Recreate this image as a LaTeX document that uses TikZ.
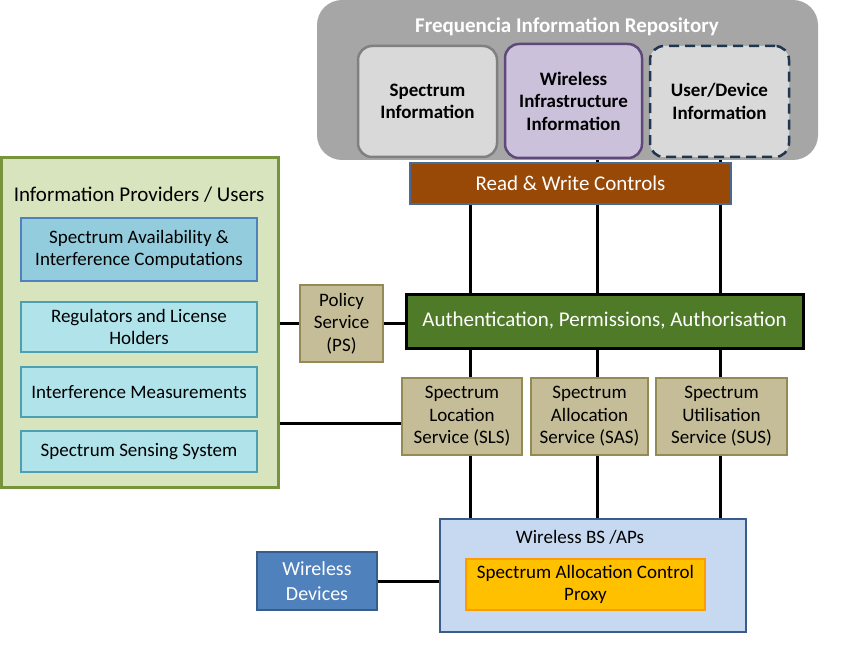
\documentclass[tikz,border=0pt]{standalone}
\usepackage{fontspec}
\setmainfont{Carlito}
\definecolor{repog}{HTML}{A6A6A6}
\definecolor{lgray}{HTML}{D9D9D9}
\definecolor{mgray}{HTML}{808080}
\definecolor{lilac}{HTML}{CCC1DA}
\definecolor{purp}{HTML}{5F497A}
\definecolor{navy}{HTML}{1F3550}
\definecolor{rust}{HTML}{984807}
\definecolor{steel}{HTML}{4A6A92}
\definecolor{agreen}{HTML}{4F7A28}
\definecolor{khaki}{HTML}{C4BD97}
\definecolor{khakib}{HTML}{948A54}
\definecolor{olivel}{HTML}{D7E4BD}
\definecolor{oliveb}{HTML}{77933C}
\definecolor{aqua}{HTML}{93CDDD}
\definecolor{aquab}{HTML}{4F81BD}
\definecolor{aqual}{HTML}{B0E3EA}
\definecolor{aquad}{HTML}{4F9FB3}
\definecolor{bslight}{HTML}{C6D9F1}
\definecolor{bsb}{HTML}{385D8A}
\definecolor{gold}{HTML}{FFC000}
\definecolor{orng}{HTML}{FF9A00}
\definecolor{wdblue}{HTML}{4F81BD}
\begin{document}
\begin{tikzpicture}[x=1pt,y=-1pt,
  every node/.style={font=\fontsize{19}{22.5}\selectfont, align=center, inner sep=0pt},
  repobox/.style={draw, line width=2.5pt, rounded corners=14pt, font=\fontsize{19}{22.5}\selectfont\bfseries},
  svc/.style={draw=khakib, fill=khaki, line width=1.2pt},
  sub/.style={draw=aquad, fill=aqual, line width=2.5pt, minimum width=236pt},
  bigtext/.style={font=\fontsize{21}{25}\selectfont},
  conn/.style={line width=3pt, black}
]
\useasboundingbox (0,0) rectangle (861,655);
\coordinate (xa) at (470,0);
\coordinate (xb) at (597,0);
\coordinate (xc) at (720,0);
\coordinate (ya) at (0,423);

% repository
\node[fill=repog, rounded corners=25pt, minimum width=501pt, minimum height=160pt] (repo) at (567.5,80) {};
\node[text=white, font=\fontsize{21}{25}\selectfont\bfseries] (repotitle) at (567,27) {Frequencia Information Repository};
\node[repobox, draw=mgray, fill=lgray, minimum width=139pt, minimum height=111pt] (spec) at (427.5,101.5) {Spectrum\\Information};
\node[repobox, draw=purp, fill=lilac, minimum width=137pt, minimum height=114pt] (wii) at (573.5,101) {Wireless\\Infrastructure\\Information};
\node[repobox, draw=navy, fill=lgray, dashed, dash pattern=on 10pt off 6pt, minimum width=139pt, minimum height=111pt] (udi) at (719.5,101.5) {User/Device\\Information};

% read & write
\node[draw=steel, fill=rust, line width=2pt, text=white, minimum width=321pt, minimum height=41pt, bigtext] (rw) at (570.5,183.5) {Read \& Write Controls};

% auth
\node[draw=black, fill=agreen, line width=3pt, text=white, minimum width=397pt, minimum height=54pt, bigtext] (auth) at (604.5,321) {Authentication, Permissions, Authorisation};

% policy service
\node[svc, minimum width=83pt, minimum height=77pt] (ps) at (341.5,323.5) {Policy\\Service\\(PS)};

% left group
\node[draw=oliveb, fill=olivel, line width=3pt, minimum width=277pt, minimum height=329pt] (left) at (139.5,322.5) {};
\node[bigtext] (lefttitle) at (139,195) {Information Providers / Users};
\node[draw=aquab, fill=aqua, line width=2.5pt, minimum width=236pt, minimum height=63pt] (sa) at (139,249.5) {Spectrum Availability \&\\Interference Computations};
\node[sub, minimum height=50pt] (rl) at (139,327) {Regulators and License\\Holders};
\node[sub, minimum height=50pt] (im) at (139,392) {Interference Measurements};
\node[sub, minimum height=41pt] (ss) at (139,451.5) {Spectrum Sensing System};

% services
\node[svc, minimum width=120pt, minimum height=77pt] (sls) at (462,416.5) {Spectrum\\Location\\Service (SLS)};
\node[svc, minimum width=117pt, minimum height=77pt] (sas) at (589.5,416.5) {Spectrum\\Allocation\\Service (SAS)};
\node[svc, minimum width=131pt, minimum height=77pt] (sus) at (721.5,416.5) {Spectrum\\Utilisation\\Service (SUS)};

% BS
\node[draw=bsb, fill=bslight, line width=2.5pt, minimum width=306pt, minimum height=113pt] (bs) at (593,575.5) {};
\node (bstitle) at (580,537) {Wireless BS /APs};
\node[draw=orng, fill=gold, line width=2.5pt, minimum width=239pt, minimum height=51pt] (proxy) at (585.5,584.5) {Spectrum Allocation Control\\Proxy};

% wireless devices
\node[draw=bsb, fill=wdblue, line width=2pt, text=white, minimum width=120pt, minimum height=58pt, font=\fontsize{20}{25}\selectfont] (wd) at (317,581) {Wireless\\Devices};

% connectors
\draw[conn] (repo.south -| xb) -- (rw.north -| xb);
\draw[conn] (repo.south -| xc) -- (rw.north -| xc);
\draw[conn] (rw.south -| xa) -- (auth.north -| xa);
\draw[conn] (rw.south -| xb) -- (auth.north -| xb);
\draw[conn] (rw.south -| xc) -- (auth.north -| xc);
\draw[conn] (auth.south -| xa) -- (sls.north -| xa);
\draw[conn] (auth.south -| xb) -- (sas.north -| xb);
\draw[conn] (auth.south -| xc) -- (sus.north -| xc);
\draw[conn] (sls.south -| xa) -- (bs.north -| xa);
\draw[conn] (sas.south -| xb) -- (bs.north -| xb);
\draw[conn] (sus.south -| xc) -- (bs.north -| xc);
\draw[conn] (left.east |- ps.west) -- (ps.west);
\draw[conn] (ps.east) -- (auth.west |- ps.east);
\draw[conn] (left.east |- ya) -- (sls.west |- ya);
\draw[conn] (wd.east) -- (bs.west |- wd.east);
\end{tikzpicture}
\end{document}
